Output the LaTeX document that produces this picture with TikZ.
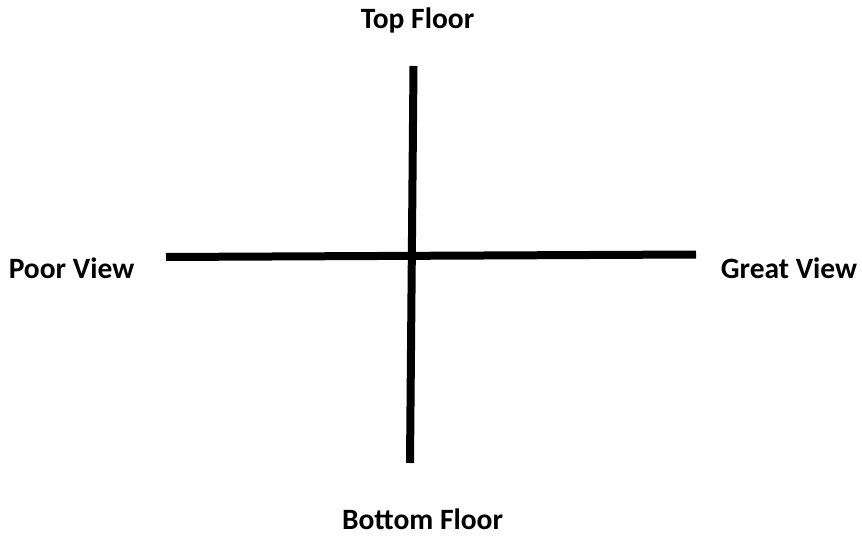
\documentclass[tikz,border=0pt]{standalone}
\usepackage{fontspec}
\setmainfont{Carlito}
\usepackage{xcolor}

\begin{document}
\begin{tikzpicture}[x=1pt,y=-1pt,axis/.style={line width=8pt},lbl/.style={font=\fontsize{29.5}{34}\selectfont\bfseries,anchor=base,inner sep=0pt}]
\useasboundingbox (0,0) rectangle (862,537);
\coordinate (top) at (413.5,66);
\coordinate (bottom) at (410,463);
\coordinate (left) at (166,257);
\coordinate (right) at (696,254.5);
\draw [axis] (top) -- (bottom);
\draw [axis] (left) -- (right);
\node [lbl] (topfloor) at (417.5,29) {Top Floor};
\node [lbl] (poorview) at (71.5,279) {Poor View};
\node [lbl] (greatview) at (789,279) {Great View};
\node [lbl] (bottomfloor) at (422.5,529) {Bottom Floor};
\end{tikzpicture}
\end{document}
